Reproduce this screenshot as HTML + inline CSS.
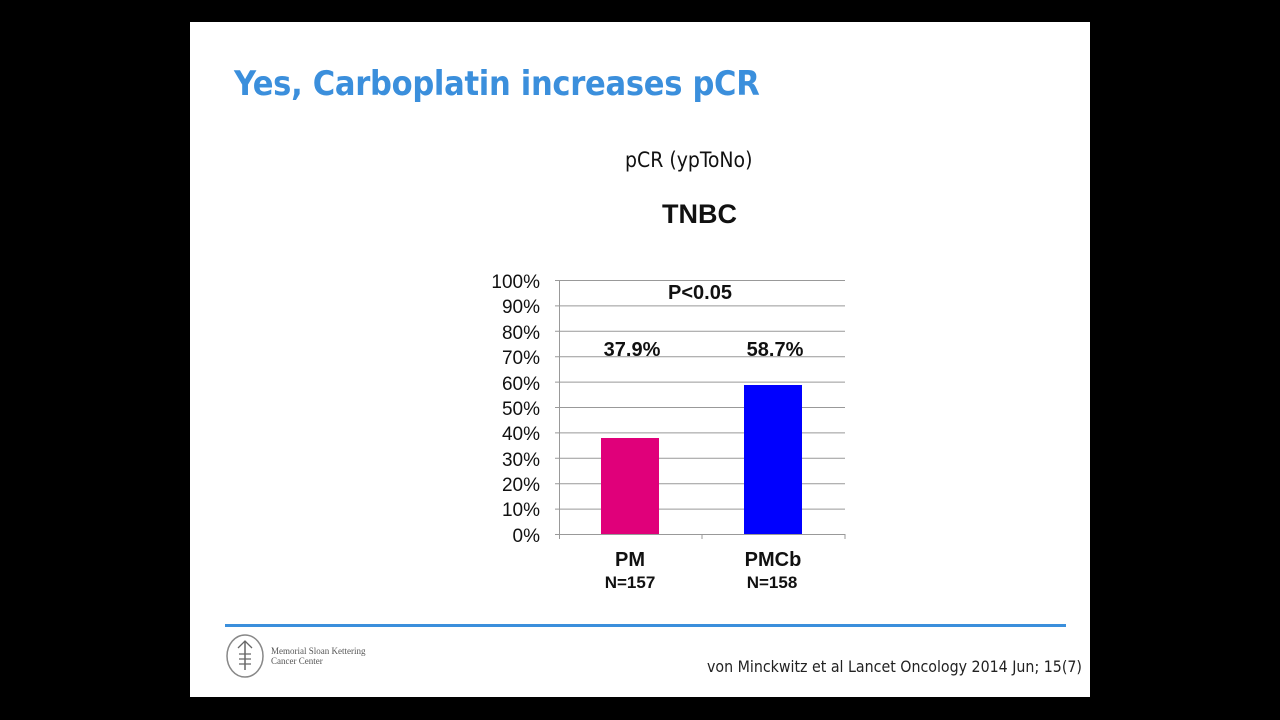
<!DOCTYPE html>
<html><head><style>
body{margin:0;width:1280px;height:720px;background:#000;position:relative;overflow:hidden;font-family:"Liberation Sans",sans-serif}
.s{position:absolute;left:190px;top:22px;width:900px;height:675px;background:#fff}
.a{position:absolute;white-space:nowrap}
</style></head><body>
<div class="s"></div>
<div class="a" style="left:234px;top:64px;font-size:34px;font-weight:bold;color:#3b8fdc;font-family:'DejaVu Sans Condensed','Liberation Sans',sans-serif;letter-spacing:-0.3px">Yes, Carboplatin increases pCR</div>
<div class="a" style="left:625px;top:148px;font-size:21px;color:#111;font-family:'DejaVu Sans Condensed','Liberation Sans',sans-serif">pCR (ypToNo)</div>
<div class="a" style="left:662px;top:199px;font-size:27px;font-weight:bold;color:#111">TNBC</div>
<svg class="a" style="left:0;top:0" width="1280" height="720">
<g stroke="#999" stroke-width="1">
<line x1="555" y1="280.5" x2="845" y2="280.5"/><line x1="555" y1="305.9" x2="845" y2="305.9"/>
<line x1="555" y1="331.3" x2="845" y2="331.3"/><line x1="555" y1="356.7" x2="845" y2="356.7"/>
<line x1="555" y1="382.1" x2="845" y2="382.1"/><line x1="555" y1="407.5" x2="845" y2="407.5"/>
<line x1="555" y1="432.9" x2="845" y2="432.9"/><line x1="555" y1="458.3" x2="845" y2="458.3"/>
<line x1="555" y1="483.7" x2="845" y2="483.7"/><line x1="555" y1="509.1" x2="845" y2="509.1"/>
<line x1="555" y1="534.5" x2="845" y2="534.5"/>
<line x1="559.5" y1="280" x2="559.5" y2="534"/>
<line x1="702" y1="534" x2="702" y2="539"/><line x1="845" y1="534" x2="845" y2="539"/><line x1="559.5" y1="534" x2="559.5" y2="539"/>
</g>
<rect x="601" y="438" width="58" height="96" fill="#e0007a"/>
<rect x="744" y="385" width="58" height="149" fill="#0000ff"/>
<g font-size="19" fill="#111" text-anchor="end">
<text x="540" y="288">100%</text><text x="540" y="313">90%</text><text x="540" y="339">80%</text>
<text x="540" y="364">70%</text><text x="540" y="390">60%</text><text x="540" y="415">50%</text>
<text x="540" y="440">40%</text><text x="540" y="466">30%</text><text x="540" y="491">20%</text>
<text x="540" y="516">10%</text><text x="540" y="542">0%</text>
</g>
<g font-size="20" font-weight="bold" fill="#111" text-anchor="middle">
<text x="700" y="299">P&lt;0.05</text>
<text x="632" y="356">37.9%</text><text x="775" y="356">58.7%</text>
<text x="630" y="566">PM</text><text x="773" y="566">PMCb</text>
</g>
<g font-size="17" font-weight="bold" fill="#111" text-anchor="middle">
<text x="630" y="588">N=157</text><text x="772" y="588">N=158</text>
</g>
<line x1="225" y1="625.5" x2="1066" y2="625.5" stroke="#3b8fdc" stroke-width="3"/>
<ellipse cx="245" cy="656" rx="18" ry="21" fill="none" stroke="#888" stroke-width="1.5"/>
<line x1="245" y1="642" x2="245" y2="670" stroke="#666" stroke-width="1.5"/>
<path d="M238 648 L245 641 L252 648 M239 654 H251 M239 659 H251 M239 664 H251" fill="none" stroke="#666" stroke-width="1.3"/>
<text x="271" y="654" font-size="9" fill="#555" font-family="Liberation Serif,serif">Memorial Sloan Kettering</text>
<text x="271" y="664" font-size="9" fill="#555" font-family="Liberation Serif,serif">Cancer Center</text>
</svg>
<div class="a" style="left:707px;top:657px;font-size:15.8px;color:#222;font-family:'DejaVu Sans Condensed','Liberation Sans',sans-serif">von Minckwitz et al Lancet Oncology 2014 Jun; 15(7)</div>
</body></html>
